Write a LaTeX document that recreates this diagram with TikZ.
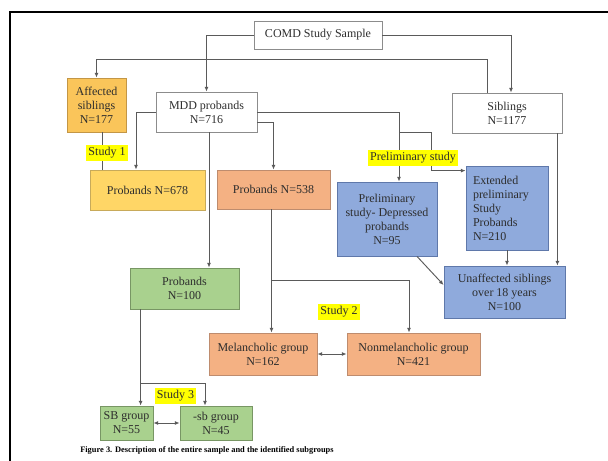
\documentclass[tikz,border=0pt]{standalone}
\usepackage{fontspec}
\setmainfont{Liberation Serif}
\usetikzlibrary{calc,arrows.meta}
\definecolor{txtgray}{RGB}{45,45,45}
\definecolor{linegray}{RGB}{90,90,90}
\definecolor{boxgray}{RGB}{140,140,140}
\definecolor{affFill}{RGB}{250,197,90}
\definecolor{affLine}{RGB}{195,150,70}
\definecolor{ylwFill}{RGB}{255,214,102}
\definecolor{ylwLine}{RGB}{200,170,90}
\definecolor{orgFill}{RGB}{244,177,131}
\definecolor{orgLine}{RGB}{190,140,110}
\definecolor{bluFill}{RGB}{143,170,220}
\definecolor{bluLine}{RGB}{95,120,170}
\definecolor{grnFill}{RGB}{169,209,142}
\definecolor{grnLine}{RGB}{120,150,100}
\definecolor{hiYellow}{RGB}{255,255,0}

\begin{document}
\begin{tikzpicture}[x=0.75pt,y=0.75pt,yscale=-1,
  box/.style={draw=#1,line width=0.6pt,inner sep=0pt,align=center,
    text=txtgray,font=\fontsize{9}{10.5}\selectfont},
  box/.default=boxgray,
  conn/.style={draw=linegray,line width=0.7pt,-{Latex[length=3.5pt,width=3pt]}},
  both/.style={draw=linegray,line width=0.7pt,{Latex[length=3.5pt,width=3pt]}-{Latex[length=3.5pt,width=3pt]}},
  plain/.style={draw=linegray,line width=0.7pt},
  hilite/.style={fill=hiYellow,inner xsep=1.5pt,inner ysep=2pt,
    text=txtgray,font=\fontsize{9}{10.5}\selectfont}]
\useasboundingbox (0,0) rectangle (608,461);

%Frame
\draw [line width=2.2pt] (10,461) -- (10,12) -- (608,12) ;

% Top row
\node (comd) at (318,35) [box,minimum width=96pt,minimum height=21pt] {COMD Study Sample};
\node (aff) at (96.5,105) [box=affLine,fill=affFill,minimum width=44.25pt,minimum height=40.5pt] {Affected\\siblings\\N=177};
\node (mdd) at (206.5,112) [box,minimum width=75.75pt,minimum height=30pt] {MDD probands\\N=716};
\node (sib) at (507,113) [box,minimum width=82.5pt,minimum height=30pt] {Siblings\\N=1177};

% Second row
\node (p678) at (147.5,190) [box=ylwLine,fill=ylwFill,minimum width=86.25pt,minimum height=30pt] {Probands N=678};
\node (p538) at (273.5,189.5) [box=orgLine,fill=orgFill,minimum width=84.75pt,minimum height=29.25pt] {Probands N=538};
\node (pre) at (387,219) [box=bluLine,fill=bluFill,minimum width=75pt,minimum height=55.5pt] {Preliminary\\study- Depressed\\probands\\N=95};
\node (ext) at (507,208) [box=bluLine,fill=bluFill,inner xsep=5.25pt,text width=51pt,minimum height=63pt,align=left] {Extended\\preliminary\\Study\\Probands\\N=210};
\node (unaff) at (504.5,292) [box=bluLine,fill=bluFill,minimum width=90.75pt,minimum height=39pt] {Unaffected siblings\\over 18 years\\N=100};

% Lower rows
\node (p100) at (184.5,288.5) [box=grnLine,fill=grnFill,minimum width=81.75pt,minimum height=30.75pt] {Probands\\N=100};
\node (mel) at (263,354) [box=orgLine,fill=orgFill,minimum width=81pt,minimum height=31.5pt] {Melancholic group\\N=162};
\node (nonmel) at (413.5,354) [box=orgLine,fill=orgFill,minimum width=99.75pt,minimum height=31.5pt] {Nonmelancholic group\\N=421};
\node (sb) at (126.5,423) [box=grnLine,fill=grnFill,minimum width=39.75pt,minimum height=25.5pt] {SB group\\N=55};
\node (msb) at (216,423) [box=grnLine,fill=grnFill,minimum width=54pt,minimum height=25.5pt] {-sb group\\N=45};

% Connectors
\draw [conn] (comd.west) -| (mdd.north) ;
\draw [conn] (comd.east) -| ($(sib.north)+(4,0)$) ;
\draw [conn] ($(sib.north west)+(36,0)$) -- ++(0,-33) -| (aff.north) ;
\coordinate (a1) at ($(aff.south)+(5.5,0)$);
\draw [plain] (a1) -- (a1 |- p678.north) ;
\draw [conn] (mdd.west) -| ($(p678.north)+(-11.5,0)$) ;
\coordinate (m1) at ($(mdd.south)+(2.5,0)$);
\draw [conn] (m1) -- (m1 |- p100.north) ;
\draw [conn] ($(mdd.east)+(0,10)$) -| (p538.north) ;
\draw [conn] (mdd.east) -| ($(pre.north)+(12,0)$) ;
\coordinate (pb) at ($(pre.north)+(12,-49)$);
\draw [conn] (pb) -| ($(ext.north west)+(-34,5)$) -- ($(ext.north west)+(0,5)$) ;
\draw [conn] (ext.south) -- (ext.south |- unaff.north) ;
\coordinate (s1) at ($(sib.south east)+(-5,0)$);
\draw [conn] (s1) -- (s1 |- unaff.north) ;
\draw [conn] ($(pre.south)+(30,0)$) -- ($(unaff.west)+(0,-7)$) ;
\coordinate (q1) at ($(p538.south)+(-2,0)$);
\draw [conn] (q1) -- (q1 |- mel.north) ;
\coordinate (q2) at ($(q1)+(0,71)$);
\draw [conn] (q2) -| ($(nonmel.north)+(-4.5,0)$) ;
\draw [both] (mel) -- (nonmel) ;
\coordinate (r1) at ($(p100.south west)+(11,0)$);
\draw [conn] (r1) -- (r1 |- sb.north) ;
\draw [conn] ($(r1)+(0,74)$) -| ($(msb.north)+(-11,0)$) ;
\draw [both] (sb) -- (msb) ;

% Text Node
\node (study1) at (107,153) [hilite] {Study 1};
% Text Node
\node (prelab) at (413,158) [hilite] {Preliminary study};
% Text Node
\node (study2) at (339,312) [hilite] {Study 2};
% Text Node
\node (study3) at (175.5,396) [hilite] {Study 3};
% Text Node
\node (cap) at (80,450) [anchor=west,inner sep=0pt,font=\fontsize{6.3}{7}\selectfont\bfseries] {Figure 3. Description of the entire sample and the identified subgroups};
\end{tikzpicture}
\end{document}
